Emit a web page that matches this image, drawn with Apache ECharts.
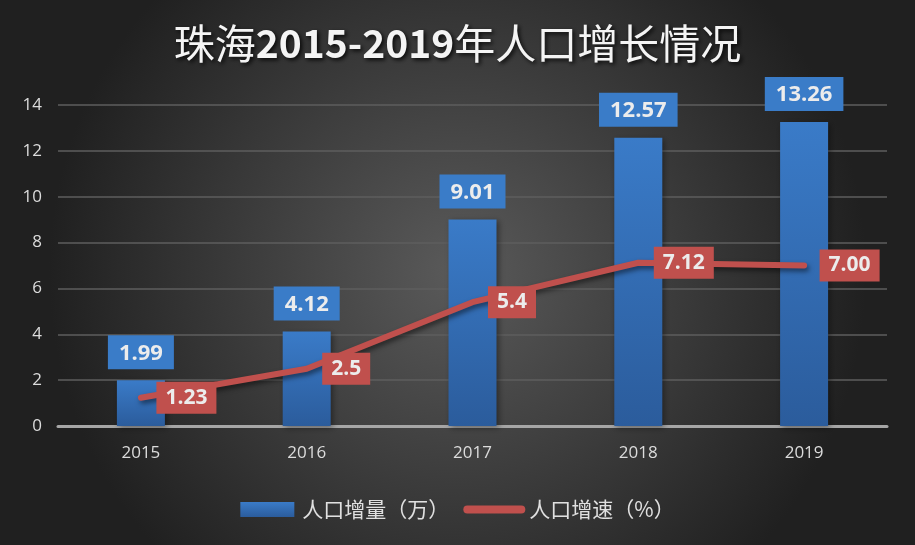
<!DOCTYPE html>
<html><head><meta charset="utf-8">
<script src="https://cdn.jsdelivr.net/npm/echarts@6/dist/echarts.min.js"></script>
<style>html,body{margin:0;padding:0;background:#333;}#c{width:915px;height:545px;}</style>
</head><body><div id="c"></div>
<script>
const categories = ['2015','2016','2017','2018','2019'];
const growthAmount = [1.99, 4.12, 9.01, 12.57, 13.26];
const growthRate = [1.23, 2.5, 5.4, 7.12, 7.00];
const rateLabels = ['1.23', '2.5', '5.4', '7.12', '7.00'];
const yTicks = [0, 2, 4, 6, 8, 10, 12, 14];
const seriesNames = ['人口增量（万）', '人口增速（%）'];
const titleParts = ['珠海', '2015-2019', '年人口增长情况'];

const shadow = {textShadowColor: 'rgba(0,0,0,0.85)', textShadowBlur: 4, textShadowOffsetX: 2, textShadowOffsetY: 2};
const chart = echarts.init(document.getElementById('c'));
chart.setOption({
  backgroundColor: {
    type: 'radial', x: 0.5, y: 0.5, r: 0.75,
    colorStops: [{offset: 0, color: '#5a5a5a'}, {offset: 1, color: '#202020'}]
  },
  title: {
    text: '{c|' + titleParts[0] + '}{d|' + titleParts[1] + '}{c|' + titleParts[2] + '}',
    left: 'center', top: 18,
    textStyle: {
      rich: {
        c: Object.assign({color: '#f4f4f4', fontSize: 41, fontWeight: 'normal', fontFamily: '"Noto Sans CJK SC", sans-serif'}, shadow),
        d: Object.assign({color: '#f4f4f4', fontSize: 39, fontWeight: 'bold', fontFamily: '"Noto Sans CJK SC", sans-serif'}, shadow)
      }
    }
  },
  legend: {
    bottom: 20, left: 'center', itemWidth: 54, itemHeight: 15, itemGap: 14,
    textStyle: {color: '#e0e0e0', fontSize: 21, padding: [0, 0, 0, 3], fontFamily: '"Noto Sans CJK SC", sans-serif'},
    data: [
      {name: seriesNames[0], icon: 'rect'},
      {name: seriesNames[1], itemStyle: {opacity: 0}, lineStyle: {width: 8, cap: 'round'}}
    ]
  },
  grid: {left: 58, right: 28, top: 105, bottom: 119},
  xAxis: {
    type: 'category', data: categories,
    axisLine: {lineStyle: {color: '#a6a6a6', width: 3}},
    axisTick: {show: false},
    axisLabel: {color: '#dcdcdc', fontSize: 17, margin: 19, fontFamily: '"Open Sans", sans-serif'}
  },
  yAxis: {
    type: 'value', min: yTicks[0], max: yTicks[yTicks.length - 1], interval: 2,
    axisLine: {show: false}, axisTick: {show: false},
    axisLabel: {color: '#dcdcdc', fontSize: 17, margin: 16, fontFamily: '"Open Sans", sans-serif'},
    splitLine: {lineStyle: {color: '#5e5e5e', width: 1.5}}
  },
  series: [
    {
      name: seriesNames[0], type: 'bar', data: growthAmount, barWidth: 48,
      itemStyle: {
        color: {type: 'linear', x: 0, y: 0, x2: 0, y2: 1,
          colorStops: [{offset: 0, color: '#3a7bc8'}, {offset: 1, color: '#2b5c9c'}]},
        shadowColor: 'rgba(0,0,0,0.4)', shadowBlur: 6, shadowOffsetX: 2, shadowOffsetY: 2
      },
      label: {
        show: true, position: 'top', distance: 11,
        backgroundColor: '#3a7cc8', padding: [7, 11, 5, 11],
        color: '#ececec', fontSize: 22, fontWeight: 'bold', fontFamily: '"Open Sans", sans-serif'
      }
    },
    {
      name: seriesNames[1], type: 'line', data: growthRate,
      symbol: 'circle', symbolSize: 1, showSymbol: true,
      lineStyle: {color: '#c0504d', width: 6, cap: 'round',
        shadowColor: 'rgba(0,0,0,0.5)', shadowBlur: 5, shadowOffsetX: 2, shadowOffsetY: 3},
      itemStyle: {color: '#c0504d'},
      label: {
        show: true, position: 'right', distance: 15,
        formatter: p => rateLabels[p.dataIndex],
        backgroundColor: '#c0504d', padding: [6, 9, 5, 9],
        color: '#ececec', fontSize: 21, fontWeight: 'bold', fontFamily: '"Open Sans", sans-serif'
      }
    }
  ]
});
</script></body></html>
